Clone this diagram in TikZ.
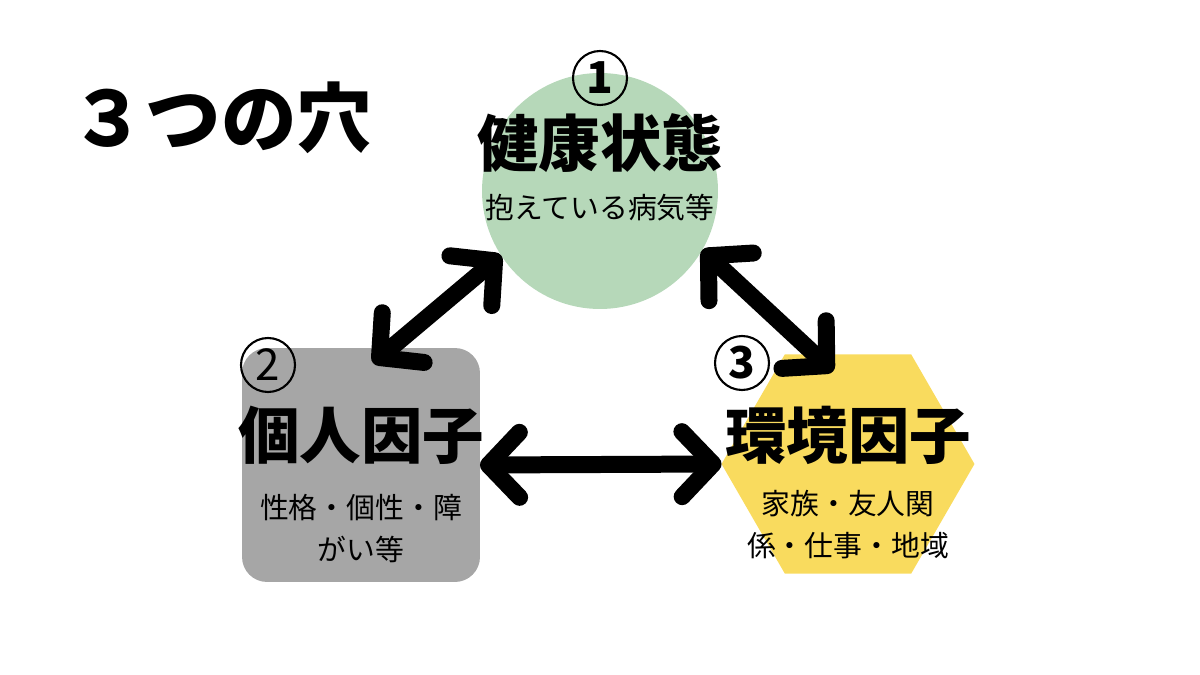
\documentclass[tikz,border=0pt]{standalone}
\usepackage{fontspec}
\usepackage{tikz}
\usetikzlibrary{positioning, shapes.geometric, arrows.meta}
\setmainfont{Noto Sans CJK JP}
\definecolor{healthgreen}{HTML}{B6D8B9}
\definecolor{persongray}{HTML}{A6A6A6}
\definecolor{envyellow}{HTML}{F9DB5E}
\tikzstyle{heading} = [font=\bfseries\fontsize{35}{35}\selectfont, inner sep=0pt]
\tikzstyle{detail} = [font=\fontsize{16.4}{23.5}\selectfont, align=center, inner sep=0pt]
\tikzstyle{num} = [circle, draw=black, line width=1.2pt, minimum size=1.08cm, inner sep=0pt, font=\fontsize{25}{25}\selectfont]
\tikzstyle{arrow} = [line width=0.34cm, {Straight Barb[length=0.62cm, width=1.3cm, round]}-{Straight Barb[length=0.62cm, width=1.3cm, round]}]

\begin{document}
\begin{tikzpicture}[x=0.02cm, y=-0.02cm] % one unit = one pixel of the 1200x675 sheet
			
			\useasboundingbox (0,0) rectangle (1200,675);
			
			\node (title) [anchor=west, inner sep=0pt, font=\bfseries\fontsize{43}{43}\selectfont] at (70,118) {３つの穴};
			
			% the three holes
			\node (health) [circle, fill=healthgreen, minimum size=4.72cm, outer sep=0pt] at (600,191) {};
			\node (personal) [rectangle, rounded corners=0.5cm, fill=persongray, minimum width=4.76cm, minimum height=4.68cm, outer sep=0pt] at (361,465) {};
			\node (env) [regular polygon, regular polygon sides=6, fill=envyellow, minimum size=5.06cm, inner sep=0pt, outer sep=0pt] at (848,464) {};
			
			\node (healthname) [heading] at ([yshift=0.96cm]health.center) {健康状態};
			\node (healthnote) [detail] at ([yshift=-0.34cm]health.center) {抱えている病気等};
			\node (personalname) [heading] at ([yshift=0.6cm]personal.center) {個人因子};
			\node (personalnote) [detail] at ([yshift=-1.27cm]personal.center) {性格・個性・障\\がい等};
			\node (envname) [heading] at ([yshift=0.58cm]env.center) {環境因子};
			\node (envnote) [detail] at ([yshift=-1.21cm]env.center) {家族・友人関\\係・仕事・地域};
			
			\node (one) [num, font=\bfseries\fontsize{25}{25}\selectfont] at (600,78) {1};
			\node (two) [num] at (268,365) {2};
			\node (three) [num, font=\bfseries\fontsize{25}{25}\selectfont] at (742,363) {3};
			
			\draw [arrow] ([shift={(12,15)}]personal.north) -- (health.213);
			\draw [arrow] (health.-30) -- ([shift={(-15,17)}]env.north);
			\draw [arrow] (personal.east) -- (env.west);
			
		\end{tikzpicture}
\end{document}
